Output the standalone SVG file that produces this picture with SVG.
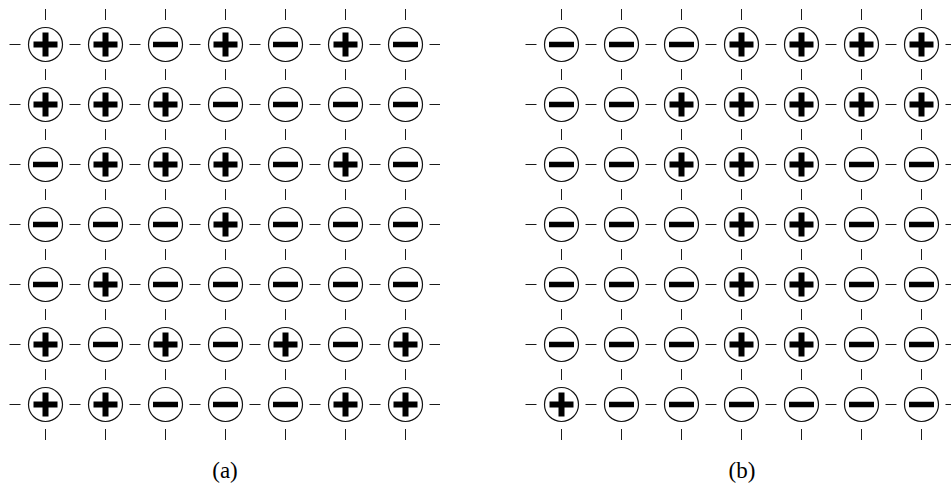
<svg xmlns="http://www.w3.org/2000/svg" xmlns:xlink="http://www.w3.org/1999/xlink" width="951" height="489" viewBox="0 0 951 489">
<style>
.tick{stroke:#1a1a1a;stroke-width:1;stroke-dasharray:11 49;fill:none}
.ring{fill:#fff;stroke:#111;stroke-width:1.2}
.bar{fill:#000}
.lbl{font-family:"Liberation Serif",serif;font-size:23px;fill:#000;text-anchor:middle}
</style>
<defs>
<g id="P"><circle class="ring" r="17"/><rect class="bar" x="-12" y="-3" width="24" height="6"/><rect class="bar" x="-3" y="-12" width="6" height="24"/></g>
<g id="M"><circle class="ring" r="17"/><rect class="bar" x="-12.5" y="-2.75" width="25" height="5.5"/></g>
</defs>
<rect width="951" height="489" fill="#fff"/>
<g id="connectors">
<line class="tick" x1="45.5" y1="9" x2="45.5" y2="440"/><line class="tick" x1="105.5" y1="9" x2="105.5" y2="440"/><line class="tick" x1="165.5" y1="9" x2="165.5" y2="440"/><line class="tick" x1="225.5" y1="9" x2="225.5" y2="440"/><line class="tick" x1="285.5" y1="9" x2="285.5" y2="440"/><line class="tick" x1="345.5" y1="9" x2="345.5" y2="440"/><line class="tick" x1="405.5" y1="9" x2="405.5" y2="440"/>
<line class="tick" x1="9.5" y1="44.5" x2="440" y2="44.5"/><line class="tick" x1="9.5" y1="104.5" x2="440" y2="104.5"/><line class="tick" x1="9.5" y1="164.5" x2="440" y2="164.5"/><line class="tick" x1="9.5" y1="224.5" x2="440" y2="224.5"/><line class="tick" x1="9.5" y1="284.5" x2="440" y2="284.5"/><line class="tick" x1="9.5" y1="344.5" x2="440" y2="344.5"/><line class="tick" x1="9.5" y1="404.5" x2="440" y2="404.5"/>
<line class="tick" x1="561.5" y1="9" x2="561.5" y2="440"/><line class="tick" x1="621.5" y1="9" x2="621.5" y2="440"/><line class="tick" x1="681.5" y1="9" x2="681.5" y2="440"/><line class="tick" x1="741.5" y1="9" x2="741.5" y2="440"/><line class="tick" x1="801.5" y1="9" x2="801.5" y2="440"/><line class="tick" x1="861.5" y1="9" x2="861.5" y2="440"/><line class="tick" x1="921.5" y1="9" x2="921.5" y2="440"/>
<line class="tick" x1="525.5" y1="44.5" x2="960" y2="44.5"/><line class="tick" x1="525.5" y1="104.5" x2="960" y2="104.5"/><line class="tick" x1="525.5" y1="164.5" x2="960" y2="164.5"/><line class="tick" x1="525.5" y1="224.5" x2="960" y2="224.5"/><line class="tick" x1="525.5" y1="284.5" x2="960" y2="284.5"/><line class="tick" x1="525.5" y1="344.5" x2="960" y2="344.5"/><line class="tick" x1="525.5" y1="404.5" x2="960" y2="404.5"/>
</g>
<g id="panel-a">
<g id="a-1-1"><use href="#P" x="45.5" y="44.5"/></g><g id="a-1-2"><use href="#P" x="105.5" y="44.5"/></g><g id="a-1-3"><use href="#M" x="165.5" y="44.5"/></g><g id="a-1-4"><use href="#P" x="225.5" y="44.5"/></g><g id="a-1-5"><use href="#M" x="285.5" y="44.5"/></g><g id="a-1-6"><use href="#P" x="345.5" y="44.5"/></g><g id="a-1-7"><use href="#M" x="405.5" y="44.5"/></g>
<g id="a-2-1"><use href="#P" x="45.5" y="104.5"/></g><g id="a-2-2"><use href="#P" x="105.5" y="104.5"/></g><g id="a-2-3"><use href="#P" x="165.5" y="104.5"/></g><g id="a-2-4"><use href="#M" x="225.5" y="104.5"/></g><g id="a-2-5"><use href="#M" x="285.5" y="104.5"/></g><g id="a-2-6"><use href="#M" x="345.5" y="104.5"/></g><g id="a-2-7"><use href="#M" x="405.5" y="104.5"/></g>
<g id="a-3-1"><use href="#M" x="45.5" y="164.5"/></g><g id="a-3-2"><use href="#P" x="105.5" y="164.5"/></g><g id="a-3-3"><use href="#P" x="165.5" y="164.5"/></g><g id="a-3-4"><use href="#P" x="225.5" y="164.5"/></g><g id="a-3-5"><use href="#M" x="285.5" y="164.5"/></g><g id="a-3-6"><use href="#P" x="345.5" y="164.5"/></g><g id="a-3-7"><use href="#M" x="405.5" y="164.5"/></g>
<g id="a-4-1"><use href="#M" x="45.5" y="224.5"/></g><g id="a-4-2"><use href="#M" x="105.5" y="224.5"/></g><g id="a-4-3"><use href="#M" x="165.5" y="224.5"/></g><g id="a-4-4"><use href="#P" x="225.5" y="224.5"/></g><g id="a-4-5"><use href="#M" x="285.5" y="224.5"/></g><g id="a-4-6"><use href="#M" x="345.5" y="224.5"/></g><g id="a-4-7"><use href="#M" x="405.5" y="224.5"/></g>
<g id="a-5-1"><use href="#M" x="45.5" y="284.5"/></g><g id="a-5-2"><use href="#P" x="105.5" y="284.5"/></g><g id="a-5-3"><use href="#M" x="165.5" y="284.5"/></g><g id="a-5-4"><use href="#M" x="225.5" y="284.5"/></g><g id="a-5-5"><use href="#M" x="285.5" y="284.5"/></g><g id="a-5-6"><use href="#M" x="345.5" y="284.5"/></g><g id="a-5-7"><use href="#M" x="405.5" y="284.5"/></g>
<g id="a-6-1"><use href="#P" x="45.5" y="344.5"/></g><g id="a-6-2"><use href="#M" x="105.5" y="344.5"/></g><g id="a-6-3"><use href="#P" x="165.5" y="344.5"/></g><g id="a-6-4"><use href="#M" x="225.5" y="344.5"/></g><g id="a-6-5"><use href="#P" x="285.5" y="344.5"/></g><g id="a-6-6"><use href="#M" x="345.5" y="344.5"/></g><g id="a-6-7"><use href="#P" x="405.5" y="344.5"/></g>
<g id="a-7-1"><use href="#P" x="45.5" y="404.5"/></g><g id="a-7-2"><use href="#P" x="105.5" y="404.5"/></g><g id="a-7-3"><use href="#M" x="165.5" y="404.5"/></g><g id="a-7-4"><use href="#M" x="225.5" y="404.5"/></g><g id="a-7-5"><use href="#M" x="285.5" y="404.5"/></g><g id="a-7-6"><use href="#P" x="345.5" y="404.5"/></g><g id="a-7-7"><use href="#P" x="405.5" y="404.5"/></g>
</g>
<g id="panel-b">
<g id="b-1-1"><use href="#M" x="561.5" y="44.5"/></g><g id="b-1-2"><use href="#M" x="621.5" y="44.5"/></g><g id="b-1-3"><use href="#M" x="681.5" y="44.5"/></g><g id="b-1-4"><use href="#P" x="741.5" y="44.5"/></g><g id="b-1-5"><use href="#P" x="801.5" y="44.5"/></g><g id="b-1-6"><use href="#P" x="861.5" y="44.5"/></g><g id="b-1-7"><use href="#P" x="921.5" y="44.5"/></g>
<g id="b-2-1"><use href="#M" x="561.5" y="104.5"/></g><g id="b-2-2"><use href="#M" x="621.5" y="104.5"/></g><g id="b-2-3"><use href="#P" x="681.5" y="104.5"/></g><g id="b-2-4"><use href="#P" x="741.5" y="104.5"/></g><g id="b-2-5"><use href="#P" x="801.5" y="104.5"/></g><g id="b-2-6"><use href="#P" x="861.5" y="104.5"/></g><g id="b-2-7"><use href="#P" x="921.5" y="104.5"/></g>
<g id="b-3-1"><use href="#M" x="561.5" y="164.5"/></g><g id="b-3-2"><use href="#M" x="621.5" y="164.5"/></g><g id="b-3-3"><use href="#P" x="681.5" y="164.5"/></g><g id="b-3-4"><use href="#P" x="741.5" y="164.5"/></g><g id="b-3-5"><use href="#P" x="801.5" y="164.5"/></g><g id="b-3-6"><use href="#M" x="861.5" y="164.5"/></g><g id="b-3-7"><use href="#M" x="921.5" y="164.5"/></g>
<g id="b-4-1"><use href="#M" x="561.5" y="224.5"/></g><g id="b-4-2"><use href="#M" x="621.5" y="224.5"/></g><g id="b-4-3"><use href="#M" x="681.5" y="224.5"/></g><g id="b-4-4"><use href="#P" x="741.5" y="224.5"/></g><g id="b-4-5"><use href="#P" x="801.5" y="224.5"/></g><g id="b-4-6"><use href="#M" x="861.5" y="224.5"/></g><g id="b-4-7"><use href="#M" x="921.5" y="224.5"/></g>
<g id="b-5-1"><use href="#M" x="561.5" y="284.5"/></g><g id="b-5-2"><use href="#M" x="621.5" y="284.5"/></g><g id="b-5-3"><use href="#M" x="681.5" y="284.5"/></g><g id="b-5-4"><use href="#P" x="741.5" y="284.5"/></g><g id="b-5-5"><use href="#P" x="801.5" y="284.5"/></g><g id="b-5-6"><use href="#M" x="861.5" y="284.5"/></g><g id="b-5-7"><use href="#M" x="921.5" y="284.5"/></g>
<g id="b-6-1"><use href="#M" x="561.5" y="344.5"/></g><g id="b-6-2"><use href="#M" x="621.5" y="344.5"/></g><g id="b-6-3"><use href="#M" x="681.5" y="344.5"/></g><g id="b-6-4"><use href="#P" x="741.5" y="344.5"/></g><g id="b-6-5"><use href="#P" x="801.5" y="344.5"/></g><g id="b-6-6"><use href="#M" x="861.5" y="344.5"/></g><g id="b-6-7"><use href="#M" x="921.5" y="344.5"/></g>
<g id="b-7-1"><use href="#P" x="561.5" y="404.5"/></g><g id="b-7-2"><use href="#M" x="621.5" y="404.5"/></g><g id="b-7-3"><use href="#M" x="681.5" y="404.5"/></g><g id="b-7-4"><use href="#M" x="741.5" y="404.5"/></g><g id="b-7-5"><use href="#M" x="801.5" y="404.5"/></g><g id="b-7-6"><use href="#M" x="861.5" y="404.5"/></g><g id="b-7-7"><use href="#M" x="921.5" y="404.5"/></g>
</g>
<g id="labels">
<text class="lbl" x="225" y="478">(a)</text>
<text class="lbl" x="742" y="478">(b)</text>
</g>
</svg>
